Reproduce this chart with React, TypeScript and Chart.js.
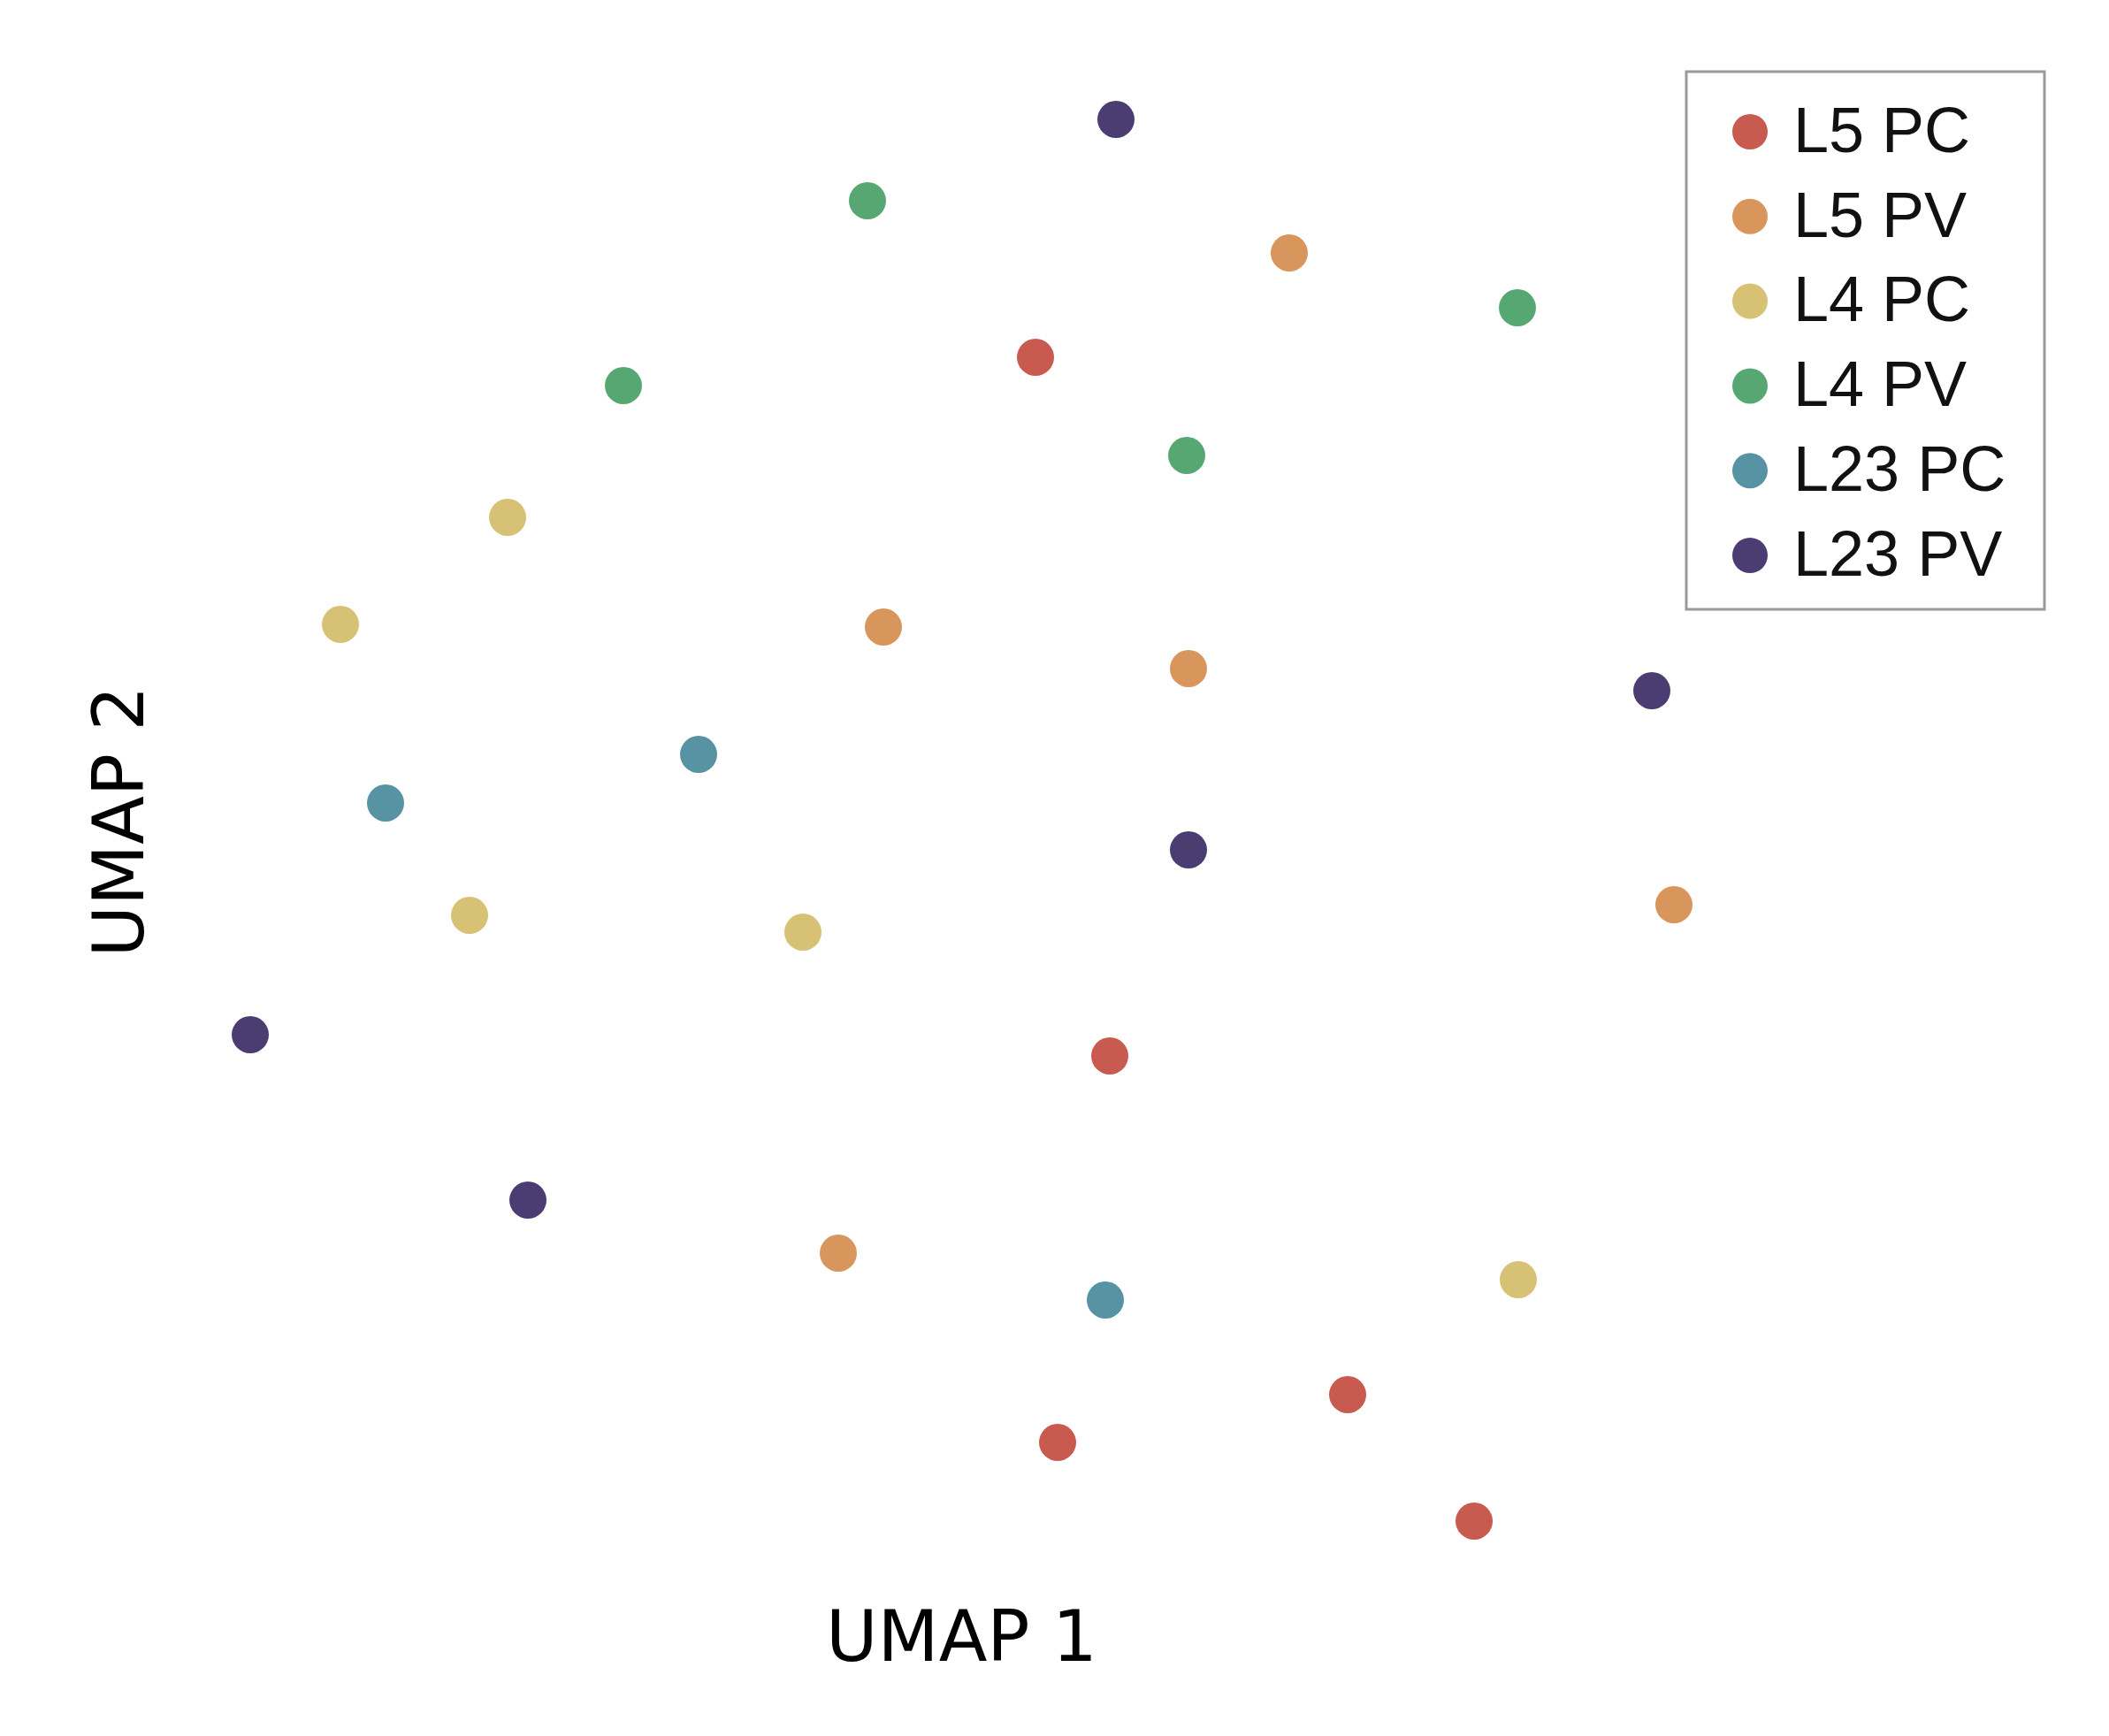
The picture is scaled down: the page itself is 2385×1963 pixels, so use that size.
import React, { useEffect, useRef } from "react";
import { Chart, registerables } from "chart.js";

Chart.register(...registerables);

// Cell types (legend order)
const categories: string[] = ["L5 PC", "L5 PV", "L4 PC", "L4 PV", "L23 PC", "L23 PV"];
const colors: string[] = ["#c85a50", "#d8955c", "#d6c174", "#57a772", "#5793a3", "#4b3d72"];

// UMAP coordinates
const l5pcX = [9.21, 10.05, 12.74, 9.46, 14.17];
const l5pcY = [13.54, 5.64, 1.81, 1.27, 0.38];

const l5pvX = [12.08, 7.49, 10.94, 16.43, 6.98];
const l5pvY = [14.72, 10.49, 10.02, 7.35, 3.41];

const l4pcX = [3.24, 1.35, 2.81, 6.58, 14.67];
const l4pcY = [11.73, 10.52, 7.23, 7.04, 3.11];

const l4pvX = [7.31, 14.66, 4.55, 10.92];
const l4pvY = [15.31, 14.1, 13.22, 12.43];

const l23pcX = [5.4, 1.86, 10.0];
const l23pcY = [9.05, 8.5, 2.88];

const l23pvX = [10.12, 16.18, 10.94, 0.33, 3.47];
const l23pvY = [16.23, 9.77, 7.97, 5.88, 4.01];

const seriesX: number[][] = [l5pcX, l5pvX, l4pcX, l4pvX, l23pcX, l23pvX];
const seriesY: number[][] = [l5pcY, l5pvY, l4pcY, l4pvY, l23pcY, l23pvY];

const X_MIN = 0;
const X_MAX = 16.75;
const Y_MIN = 0;
const Y_MAX = 16.58;

const legendBoxPlugin = {
  id: "legendBox",
  afterDraw(chart: any) {
    const ctx = chart.ctx;
    const left = 1907;
    const top = 81;
    const right = 2312;
    const bottom = 689;
    ctx.save();
    ctx.fillStyle = "#ffffff";
    ctx.fillRect(left, top, right - left, bottom - top);
    ctx.strokeStyle = "#9a9a9a";
    ctx.lineWidth = 3;
    ctx.strokeRect(left, top, right - left, bottom - top);
    const rowStart = 149;
    const rowStep = 95.8;
    chart.data.datasets.forEach((ds: any, i: number) => {
      const cy = rowStart + i * rowStep;
      ctx.beginPath();
      ctx.arc(1979, cy, 20, 0, Math.PI * 2);
      ctx.fillStyle = ds.backgroundColor;
      ctx.fill();
      ctx.fillStyle = "#111111";
      ctx.font = "72px 'Liberation Sans', Arial, sans-serif";
      ctx.textAlign = "left";
      ctx.textBaseline = "middle";
      ctx.fillText(ds.label, 2028, cy + 3);
    });
    ctx.restore();
  },
};

export default function App() {
  const canvasRef = useRef<HTMLCanvasElement | null>(null);

  useEffect(() => {
    if (!canvasRef.current) return;
    const datasets = categories.map((name, i) => ({
      label: name,
      data: seriesX[i].map((x, j) => ({ x, y: seriesY[i][j] })),
      backgroundColor: colors[i],
      borderColor: colors[i],
      borderWidth: 0,
      pointRadius: 21,
      pointHoverRadius: 21,
    }));
    const chart = new Chart(canvasRef.current, {
      type: "scatter",
      data: { datasets },
      options: {
        animation: false,
        responsive: false,
        devicePixelRatio: 1,
        events: [],
        layout: { padding: { left: 0, right: 460, top: 100, bottom: 0 } },
        plugins: {
          legend: { display: false },
          tooltip: { enabled: false },
        },
        scales: {
          x: {
            type: "linear",
            position: "bottom",
            min: X_MIN,
            max: X_MAX,
            grid: { display: false, drawTicks: false },
            border: { display: false },
            ticks: { display: false },
            title: {
              display: true,
              text: "UMAP 1",
              color: "#000000",
              font: { family: "'DejaVu Sans', sans-serif", size: 80, lineHeight: 1.2 },
              padding: { top: 51, bottom: 58 },
            },
          },
          y: {
            type: "linear",
            position: "left",
            min: Y_MIN,
            max: Y_MAX,
            grid: { display: false, drawTicks: false },
            border: { display: false },
            ticks: { display: false },
            title: {
              display: true,
              text: "UMAP 2",
              color: "#000000",
              font: { family: "'DejaVu Sans', sans-serif", size: 80, lineHeight: 1.2 },
              padding: { top: 93, bottom: 61 },
            },
          },
        },
      },
      plugins: [legendBoxPlugin],
    });
    return () => chart.destroy();
  }, []);

  return (
    <div style={{ position: "fixed", left: 0, top: 0, width: 2385, height: 1963, background: "#ffffff" }}>
      <canvas ref={canvasRef} width={2385} height={1963} style={{ display: "block" }} />
    </div>
  );
}
